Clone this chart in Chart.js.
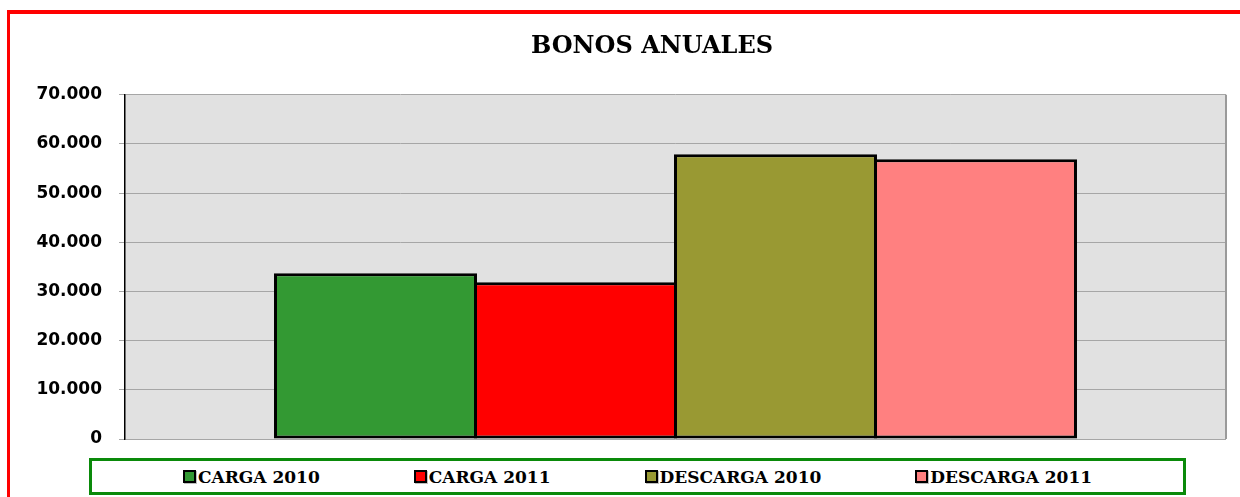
<!DOCTYPE html>
<html lang="es">
<head>
<meta charset="utf-8">
<title>Bonos anuales</title>
<script src="https://cdn.jsdelivr.net/npm/chart.js@4.4.1/dist/chart.umd.min.js"></script>
<style>
    html, body { margin: 0; padding: 0; background: #fff; }
    .wrap { position: relative; width: 1240px; height: 497px; overflow: hidden; }
    .frame {
        position: absolute; left: 7px; top: 10px; width: 1300px; height: 600px;
        border-top: 4px solid #ff0000; border-left: 3px solid #ff0000;
        pointer-events: none;
    }
    #bonosChart { position: absolute; left: 0; top: 0; }
    .legend-box {
        position: absolute; left: 89px; top: 458px; width: 1091px; height: 31px;
        border: 3px solid #0a8a0a; background: #fff;
        display: flex; align-items: center; justify-content: center; gap: 94px;
        font: bold 17px 'DejaVu Serif', serif; color: #000;
    }
    .legend-item { display: flex; align-items: center; white-space: nowrap; }
    .legend-swatch {
        width: 9px; height: 9px; border: 2px solid #000; margin-right: 2px;
        box-shadow: 1px 1px 0 rgba(0,0,0,0.25);
    }
</style>
</head>
<body>
<div class="wrap">
    <canvas id="bonosChart" width="1240" height="497"></canvas>
    <div class="frame"></div>
    <div class="legend-box" id="legendBox"></div>
</div>
<script>
// datos
const categories = ['BONOS ANUALES'];
const seriesNames = ['CARGA 2010', 'CARGA 2011', 'DESCARGA 2010', 'DESCARGA 2011'];
const seriesValues = [33700, 31900, 57900, 56900];
const seriesColors = ['#339933', '#ff0000', '#999933', '#ff8080'];
const yTicks = [0, 10000, 20000, 30000, 40000, 50000, 60000, 70000];

document.addEventListener('DOMContentLoaded', () => {

    // ═══════════════════════════════════════════
    // 1. Fondo gris del área de trazado + título desplazado
    // ═══════════════════════════════════════════
    const plotBackground = {
        id: 'plotBackground',
        beforeDraw(chart) {
            const { ctx, chartArea: a } = chart;
            ctx.save();
            ctx.fillStyle = '#e1e1e1';
            ctx.fillRect(a.left, a.top, a.right - a.left, a.bottom - a.top);
            ctx.restore();
        },
        afterDraw(chart) {
            const { ctx, chartArea: a } = chart;
            ctx.save();
            ctx.strokeStyle = '#9a9a9a';
            ctx.lineWidth = 2;
            ctx.beginPath();
            ctx.moveTo(a.right, a.top);
            ctx.lineTo(a.right, a.bottom);
            ctx.stroke();
            ctx.restore();
        }
    };

    // en el original el título queda algo a la derecha del centro
    const titleShift = {
        id: 'titleShift',
        afterLayout(chart) {
            const t = chart.titleBlock;
            if (t) { t.left += 34; t.right += 34; }
        }
    };

    // ═══════════════════════════════════════════
    // 2. Gráfico de barras
    // ═══════════════════════════════════════════
    const datasets = seriesNames.map((name, i) => ({
        label: name,
        data: [seriesValues[i]],
        backgroundColor: seriesColors[i],
        borderColor: '#000',
        borderWidth: 3,
        borderSkipped: false,
        categoryPercentage: 0.7266,
        barPercentage: 1.015
    }));

    const chart = new Chart(document.getElementById('bonosChart').getContext('2d'), {
        type: 'bar',
        data: { labels: categories, datasets },
        options: {
            responsive: false,
            animation: false,
            layout: { padding: { left: 10, right: 14, top: 10, bottom: 58 } },
            plugins: {
                legend: { display: false },
                tooltip: { enabled: false },
                title: {
                    display: true,
                    text: 'BONOS ANUALES',
                    color: '#000',
                    font: { family: "'DejaVu Serif', serif", size: 24, weight: 'bold' },
                    padding: { top: 22, bottom: 34 }
                }
            },
            scales: {
                x: { display: false },
                y: {
                    min: 0, max: 70000,
                    afterBuildTicks: (scale) => { scale.ticks = yTicks.map(v => ({ value: v })); },
                    afterFit: (scale) => { scale.width = 115; },
                    grid: { color: '#a6a6a6', lineWidth: 1, tickLength: 6, tickColor: '#a6a6a6' },
                    border: { color: '#000', width: 1.5 },
                    ticks: {
                        padding: 17,
                        color: '#000',
                        font: { family: "'DejaVu Sans', sans-serif", size: 17, weight: 'bold' },
                        callback: (v) => v === 0 ? '0' : v.toLocaleString('de-DE')
                    }
                }
            }
        },
        plugins: [plotBackground, titleShift]
    });

    // ═══════════════════════════════════════════
    // 3. Leyenda HTML (recuadro verde)
    // ═══════════════════════════════════════════
    const legendBox = document.getElementById('legendBox');
    chart.data.datasets.forEach(ds => {
        const item = document.createElement('div');
        item.className = 'legend-item';
        const sw = document.createElement('span');
        sw.className = 'legend-swatch';
        sw.style.background = ds.backgroundColor;
        const txt = document.createElement('span');
        txt.textContent = ds.label;
        item.appendChild(sw);
        item.appendChild(txt);
        legendBox.appendChild(item);
    });
});
</script>
</body>
</html>
